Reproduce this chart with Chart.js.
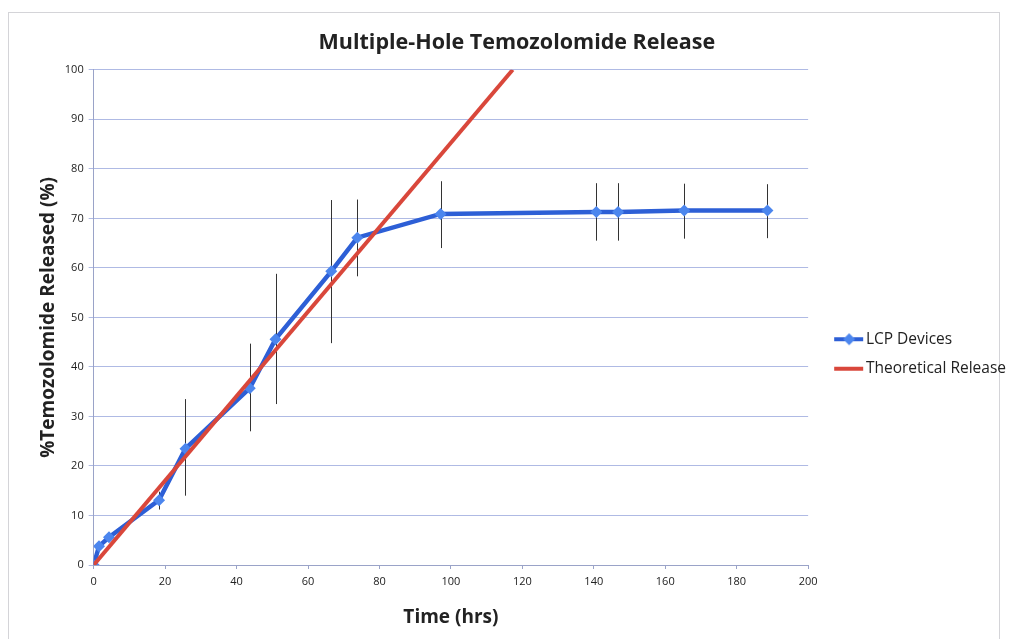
<!DOCTYPE html>
<html>
<head>
<meta charset="utf-8">
<script src="https://cdn.jsdelivr.net/npm/chart.js@4"></script>
<style>
  html, body { margin: 0; padding: 0; background: #fff; }
  #wrap { position: relative; width: 1012px; height: 639px; }
  #frame { position: absolute; left: 8px; top: 12px; width: 992px; height: 640px; border: 1px solid #d4d4d8; box-sizing: border-box; }
  canvas { position: absolute; left: 0; top: 0; }
</style>
</head>
<body>
<div id="wrap">
  <div id="frame"></div>
  <canvas id="c" width="1012" height="639"></canvas>
</div>
<script>
// LCP device release
const timeHrs = [0, 1.5, 4.3, 18.3, 25.7, 43.7, 50.9, 66.5, 73.8, 97.1, 140.7, 146.8, 165.3, 188.6];
const releasePct = [0, 3.8, 5.6, 13.1, 23.5, 35.7, 45.6, 59.3, 66.1, 70.9, 71.3, 71.3, 71.6, 71.6];
const errLow = [0, 3.0, 4.8, 11.2, 14.0, 27.0, 32.5, 44.8, 58.3, 64.0, 65.5, 65.5, 65.9, 66.0];
const errHigh = [0, 4.6, 6.4, 14.8, 33.5, 44.7, 58.8, 73.7, 73.8, 77.5, 77.1, 77.1, 77.0, 76.9];

// theoretical release line
const theoTime = [0, 117.3];
const theoPct = [0, 100];

const xTicks = [0, 20, 40, 60, 80, 100, 120, 140, 160, 180, 200];
const yTicks = [0, 10, 20, 30, 40, 50, 60, 70, 80, 90, 100];

const BLUE = "#2d5fd6";
const BLUE_PT = "#4c86ee";
const RED = "#d9473b";

// legend swatch: 48 wide, drawn in its right 30px so it sits close to the text
function legendIcon(withDiamond, color) {
  const cv = document.createElement("canvas");
  cv.width = 48; cv.height = 14;
  const g = cv.getContext("2d");
  g.strokeStyle = color; g.lineWidth = 4;
  g.beginPath(); g.moveTo(18, 7); g.lineTo(47, 7); g.stroke();
  if (withDiamond) {
    g.fillStyle = BLUE_PT;
    g.beginPath(); g.moveTo(33, 1); g.lineTo(39, 7); g.lineTo(33, 13); g.lineTo(27, 7); g.closePath(); g.fill();
  }
  return cv;
}
const iconLcp = legendIcon(true, BLUE);
const iconTheo = legendIcon(false, RED);

const errorBars = {
  id: "errorBars",
  beforeDatasetsDraw(chart) {
    const { ctx, scales: { x, y } } = chart;
    ctx.save();
    ctx.strokeStyle = "#333";
    ctx.lineWidth = 1;
    timeHrs.forEach((t, i) => {
      if (errHigh[i] - errLow[i] <= 0) return;
      const px = Math.round(x.getPixelForValue(t)) + 0.5;
      ctx.beginPath();
      ctx.moveTo(px, y.getPixelForValue(errHigh[i]));
      ctx.lineTo(px, y.getPixelForValue(errLow[i]));
      ctx.stroke();
    });
    ctx.restore();
  }
};

new Chart(document.getElementById("c"), {
  type: "line",
  data: {
    datasets: [
      {
        label: "LCP Devices",
        data: timeHrs.map((t, i) => ({ x: t, y: releasePct[i] })),
        borderColor: BLUE, borderWidth: 4.5,
        pointStyle: "rectRot", pointRadius: 6, pointBackgroundColor: BLUE_PT, pointBorderColor: BLUE_PT, pointBorderWidth: 0,
        tension: 0, order: 1
      },
      {
        label: "Theoretical Release",
        data: theoTime.map((t, i) => ({ x: t, y: theoPct[i] })),
        borderColor: RED, borderWidth: 4, pointRadius: 0,
        tension: 0, order: 0
      }
    ]
  },
  plugins: [errorBars],
  options: {
    responsive: false,
    animation: false,
    layout: { padding: { top: 30, left: 32, right: -4, bottom: 6 } },
    plugins: {
      title: {
        display: true, text: "Multiple-Hole Temozolomide Release\u2002\u2009",
        color: "#222", font: { family: "Open Sans", size: 21.5, weight: "bold" },
        padding: { top: 0, bottom: 14 }
      },
      legend: {
        position: "right",
        title: { display: true, text: " ", font: { size: 10 }, padding: { top: 0, bottom: 33 } },
        labels: {
          color: "#222", font: { family: "Open Sans", size: 15.5 },
          usePointStyle: true, pointStyleWidth: 36, boxHeight: 14, padding: 14,
          generateLabels: () => [
            { text: "LCP Devices", pointStyle: iconLcp, fillStyle: BLUE, strokeStyle: BLUE, lineWidth: 0, datasetIndex: 0, fontColor: "#222" },
            { text: "Theoretical Release", pointStyle: iconTheo, fillStyle: RED, strokeStyle: RED, lineWidth: 0, datasetIndex: 1, fontColor: "#222" }
          ]
        }
      },
      tooltip: { enabled: false }
    },
    scales: {
      x: {
        type: "linear", min: 0, max: 200,
        afterBuildTicks: (s) => { s.ticks = xTicks.map(v => ({ value: v })); },
        ticks: { color: "#222", font: { family: "Open Sans", size: 11 }, padding: 6 },
        grid: { drawOnChartArea: false, drawTicks: true, tickLength: 4, color: "#9aa3c8" },
        border: { color: "#9aa3c8", width: 1 },
        title: { display: true, text: "Time (hrs)", color: "#222", font: { family: "Open Sans", size: 19, weight: "bold" }, padding: { top: 12 } }
      },
      y: {
        min: 0, max: 100,
        afterBuildTicks: (s) => { s.ticks = yTicks.map(v => ({ value: v })); },
        ticks: { color: "#222", font: { family: "Open Sans", size: 11 }, padding: 5 },
        grid: { color: "rgba(110,130,205,0.55)", lineWidth: 1, drawTicks: true, tickLength: 5 },
        border: { color: "#9aa3c8", width: 1 },
        title: { display: true, text: "%Temozolomide Released (%)", color: "#222", font: { family: "Open Sans", size: 19, weight: "bold" }, padding: { top: 5, bottom: 0 } }
      }
    }
  }
});
</script>
</body>
</html>
